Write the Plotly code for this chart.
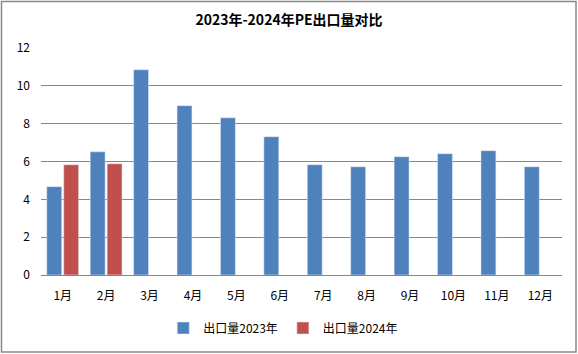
import plotly.graph_objects as go

months = ["1月", "2月", "3月", "4月", "5月", "6月", "7月", "8月", "9月", "10月", "11月", "12月"]
exports_2023 = [4.67, 6.51, 10.85, 8.95, 8.31, 7.31, 5.83, 5.72, 6.25, 6.41, 6.57, 5.72]
exports_2024 = [5.83, 5.88, None, None, None, None, None, None, None, None, None, None]
name_2023 = "出口量2023年"
name_2024 = "出口量2024年"
title = "2023年-2024年PE出口量对比"
y_ticks = [0, 2, 4, 6, 8, 10, 12]

W, H = 578, 354
ml, mr, mt, mb = 41, 16, 48, 79
pw, ph = W - ml - mr, H - mt - mb

fig = go.Figure()
fig.add_trace(go.Bar(x=months, y=exports_2023, name=name_2023, marker_color="#4F81BD"))
fig.add_trace(go.Bar(x=months, y=exports_2024, name=name_2024, marker_color="#C0504D"))

font = "Noto Sans CJK SC, Calibri, Liberation Sans, sans-serif"

# outer border around the whole chart
bx0, by0, bx1, by1 = 1.5, 1.5, 576, 352
fig.add_shape(type="rect", xref="paper", yref="paper",
              x0=(bx0 - ml) / pw, x1=(bx1 - ml) / pw,
              y0=(H - mb - by1) / ph, y1=(H - mb - by0) / ph,
              line=dict(color="#888888", width=1.5), fillcolor="rgba(0,0,0,0)", layer="below")

fig.update_layout(
    width=W, height=H,
    margin=dict(l=ml, r=mr, t=mt, b=mb, autoexpand=False),
    paper_bgcolor="white", plot_bgcolor="white",
    barmode="group", bargap=0.22, bargroupgap=0.12,
    font=dict(family=font, size=12, color="#000000"),
    title=dict(text="<b>" + title + "</b>", x=0.5, xref="container", xanchor="center",
               y=1 - 20 / H, yanchor="middle", yref="container",
               font=dict(size=14, family=font, color="#000000")),
    legend=dict(orientation="h", x=0.49, xanchor="center", xref="container",
                y=1 - 328 / H, yref="container", yanchor="middle",
                font=dict(size=12, family=font), itemwidth=30, traceorder="normal"),
    showlegend=True,
)
fig.update_yaxes(range=[0, 12], tickvals=y_ticks, showgrid=True, gridcolor="#878787", gridwidth=1,
                 zeroline=False, showline=False, ticks="", ticklabelstandoff=10, automargin=False,
                 tickfont=dict(size=12, family=font))
fig.update_xaxes(showline=True, linecolor="#878787", linewidth=1, ticks="", ticklabelstandoff=10,
                 automargin=False, tickfont=dict(size=12, family=font))

fig.write_html("out.html")
